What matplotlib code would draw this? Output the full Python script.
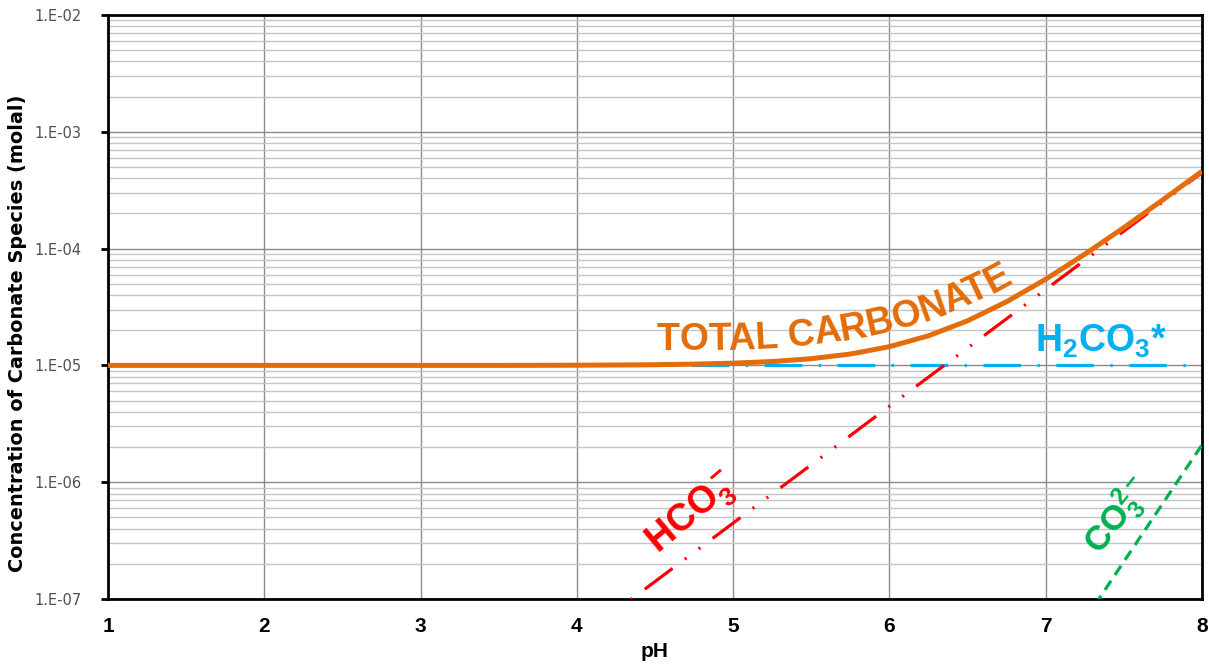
import numpy as np
import matplotlib
matplotlib.use('Agg')
import matplotlib.pyplot as plt
import matplotlib.transforms as mtransforms
from matplotlib.ticker import LogLocator, NullFormatter, FixedLocator, FixedFormatter

plt.rcParams['font.family'] = ['Liberation Sans', 'DejaVu Sans']
plt.rcParams['mathtext.fontset'] = 'custom'
plt.rcParams['mathtext.rm'] = 'Liberation Sans'
plt.rcParams['mathtext.bf'] = 'Liberation Sans:bold'
plt.rcParams['lines.scale_dashes'] = False

# pH grid and species concentrations (molal)
ph = [1.0, 1.5, 2.0, 2.5, 3.0, 3.5, 4.0, 4.25, 4.5, 4.75, 5.0, 5.25, 5.5, 5.75,
      6.0, 6.25, 6.5, 6.75, 7.0, 7.25, 7.5, 7.75, 8.0]
h2co3 = [1.0e-5] * len(ph)
total = [1.0e-5, 1.0e-5, 1.0e-5, 1.0e-5, 1.0e-5, 1.0e-5, 1.004e-5, 1.008e-5,
         1.014e-5, 1.025e-5, 1.045e-5, 1.079e-5, 1.141e-5, 1.251e-5, 1.447e-5,
         1.794e-5, 2.41e-5, 3.51e-5, 5.47e-5, 8.95e-5, 1.512e-4, 2.617e-4, 4.59e-4]

ph_hco3 = [4.0, 4.5, 5.0, 5.5, 6.0, 6.5, 7.0, 7.5, 8.0]
hco3 = [4.47e-8, 1.41e-7, 4.47e-7, 1.41e-6, 4.47e-6, 1.41e-5, 4.47e-5, 1.41e-4, 4.47e-4]

ph_co3 = [7.0, 7.5, 8.0]
co3 = [2.09e-8, 2.09e-7, 2.09e-6]

xticks = [1, 2, 3, 4, 5, 6, 7, 8]
yticks = [1e-7, 1e-6, 1e-5, 1e-4, 1e-3, 1e-2]
ytick_labels = ['1.E-07', '1.E-06', '1.E-05', '1.E-04', '1.E-03', '1.E-02']

ORANGE = '#E46C0A'
CYAN = '#00B0F0'
RED = '#FF0000'
GREEN = '#00B050'


def curved_text(fig, text, x0, y0, b, size, color, weight='bold'):
    """Lay text along the baseline y = y0 - b*(x - x0)**3 (pixel coords, y down)."""
    renderer = fig.canvas.get_renderer()
    height = fig.bbox.height
    xs = np.linspace(x0, x0 + 600, 6001)
    ys = y0 - b * (xs - x0) ** 3
    s = np.concatenate([[0.0], np.cumsum(np.hypot(np.diff(xs), np.diff(ys)))])

    def width(t):
        tmp = fig.text(0, 0, t, fontsize=size, fontweight=weight)
        w = tmp.get_window_extent(renderer).width
        tmp.remove()
        return w

    for i, ch in enumerate(text):
        if ch == ' ':
            continue
        centre = width(text[:i + 1]) - width(ch) / 2
        x = np.interp(centre, s, xs)
        y = y0 - b * (x - x0) ** 3
        slope = 3 * b * (x - x0) ** 2
        ang = np.degrees(np.arctan(slope))
        fig.text(x, height - y, ch, fontsize=size, fontweight=weight, color=color,
                 ha='center', va='baseline', rotation=ang, rotation_mode='anchor',
                 transform=mtransforms.IdentityTransform())


fig = plt.figure(figsize=(12.09, 6.64), dpi=100)
ax = fig.add_axes([108 / 1209, 65 / 664, 1094 / 1209, 584 / 664])

ax.plot(ph, h2co3, color=CYAN, lw=2.3, dashes=(27, 12, 1.5, 12), zorder=3)
ax.plot(ph_hco3, hco3, color=RED, lw=2.3, dashes=(25, 11, 1.5, 11, 1.5, 11), zorder=3)
ax.plot(ph_co3, co3, color=GREEN, lw=2.3, dashes=(8, 5), zorder=3)
ax.plot(ph, total, color=ORANGE, lw=3.6, zorder=4, solid_capstyle='butt')

ax.set_yscale('log')
ax.set_xlim(1, 8)
ax.set_ylim(1e-7, 1e-2)

ax.xaxis.set_major_locator(FixedLocator(xticks))
ax.yaxis.set_major_locator(FixedLocator(yticks))
ax.yaxis.set_major_formatter(FixedFormatter(ytick_labels))
ax.yaxis.set_minor_locator(LogLocator(base=10, subs=np.arange(2, 10)))
ax.yaxis.set_minor_formatter(NullFormatter())

ax.grid(True, axis='x', which='major', color='#8c8c8c', lw=1.0, zorder=0)
ax.grid(True, axis='y', which='major', color='#8a8a8a', lw=1.0, zorder=0)
ax.grid(True, axis='y', which='minor', color='#c4c4c4', lw=1.0, zorder=0)
ax.set_axisbelow(True)

for sp in ax.spines.values():
    sp.set_linewidth(2.0)
    sp.set_color('black')

ax.tick_params(axis='x', length=0, pad=13, labelsize=15)
ax.tick_params(axis='y', which='major', length=5, width=2, direction='out',
               labelsize=10.5, labelcolor='#505050', pad=14)
ax.tick_params(axis='y', which='minor', length=0)
for lab in ax.get_xticklabels():
    lab.set_fontweight('bold')
for lab in ax.get_yticklabels():
    lab.set_family('DejaVu Sans')

ax.set_xlabel('pH', fontsize=15, fontweight='bold', labelpad=4)
ax.set_ylabel('Concentration of Carbonate Species (molal)', fontsize=13.9,
              fontweight='bold', family='DejaVu Sans')
ax.yaxis.set_label_coords(-0.074, 0.455)

# species labels
curved_text(fig, 'TOTAL CARBONATE', 657, 350, 1.5e-6, 27, ORANGE)
ax.text(6.93, 1.3e-5, r'H$_\mathbf{2}$CO$_\mathbf{3}$*', color=CYAN, fontsize=27,
        fontweight='bold', ha='left', va='baseline')
ax.text(4.74, 5.3e-7, r'$\mathbf{HCO_3^-}$', color=RED, fontsize=27,
        ha='center', va='center', rotation=40, rotation_mode='anchor')
ax.text(7.46, 5.2e-7, r'$\mathbf{CO_3^{2-}}$', color=GREEN, fontsize=25,
        ha='center', va='center', rotation=52, rotation_mode='anchor')

fig.savefig('out.png', dpi=100)
